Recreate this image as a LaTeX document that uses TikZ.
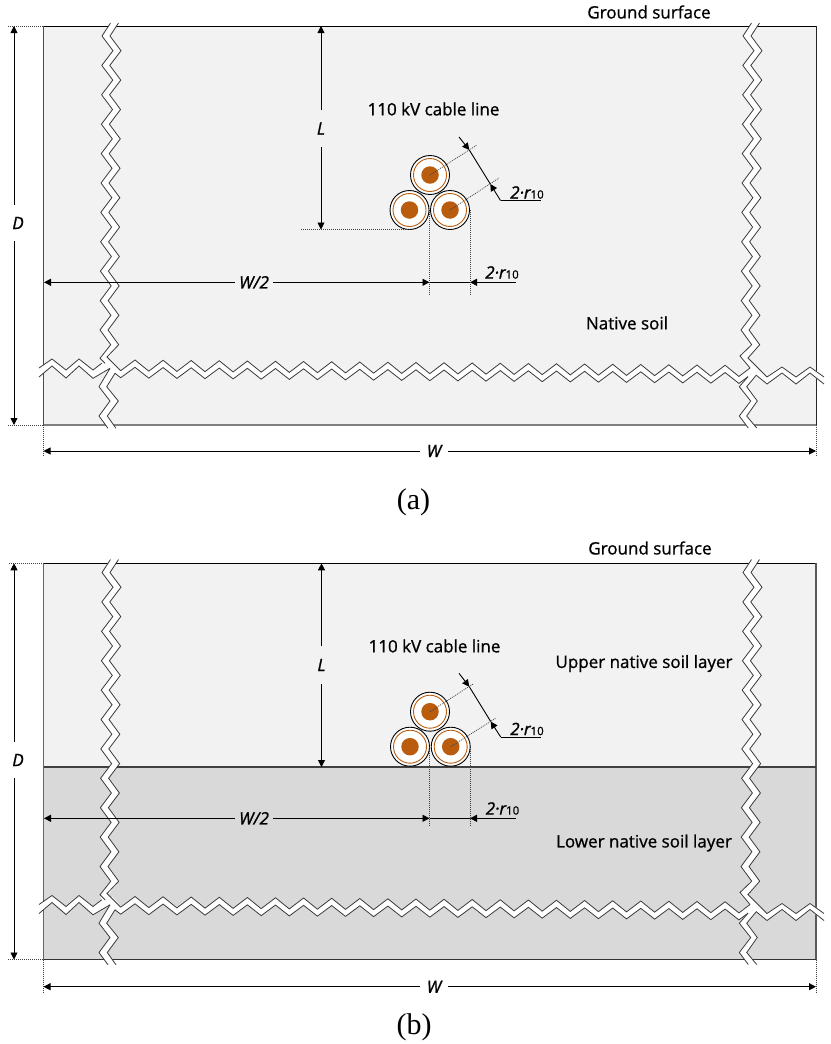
\documentclass[tikz,border=0pt]{standalone}
\usepackage{fontspec}
\setmainfont{Open Sans}
\newfontfamily\capfont{Liberation Serif}
\newfontfamily\medfont{Open Sans}[FakeBold=.9]
\newfontfamily\medital{Open Sans Italic}[FakeBold=1.2]
\usetikzlibrary{arrows.meta}
\definecolor{soilup}{HTML}{F2F2F2}
\definecolor{soillow}{HTML}{D9D9D9}
\definecolor{copper}{HTML}{BA5C0E}
\definecolor{edgegray}{HTML}{3A3A3A}
\newcommand\twor{{\medital\fontsize{17}{17}\selectfont 2·r}{\medfont\fontsize{11.5}{11.5}\selectfont 10}}
\newcommand\vz[1]{\foreach \k in {0,...,10}{ -- ({#1+102-.2*\k},{36+29.4*\k}) -- ({#1+113-.23*\k},{50.7+29.4*\k}) }}
\tikzset{
  edgeline/.style={draw=edgegray,line width=.8pt,line join=miter},
  vband/.style={draw=white,line width=6.4pt,line join=miter},
  hband/.style={draw=white,line width=5.9pt,line join=miter},
  dimline/.style={draw=black,line width=.9pt,-{Triangle[length=7pt,width=7pt]}},
  plainline/.style={draw=black,line width=.9pt},
  dotline/.style={draw=black!75,line width=.7pt,dash pattern=on 1pt off 1pt},
  txt/.style={font=\medfont\fontsize{17}{18}\selectfont,text=black,inner sep=0pt},
  dimtxt/.style={font=\medital\fontsize{17}{18}\selectfont,text=black,inner sep=2pt},
  rtxt/.style={text=black,inner sep=1pt},
  captxt/.style={font=\capfont\fontsize{30}{32}\selectfont,text=black,inner sep=0pt},
  cableouter/.style={circle,draw=black,fill=white,line width=.9pt,minimum size=39pt,inner sep=0pt},
  cablering/.style={circle,draw=copper,line width=.9pt,minimum size=33pt,inner sep=0pt},
  cablecore/.style={circle,fill=copper,minimum size=17.5pt,inner sep=0pt},
}
% breaks of the soil, shared by both panels
\newcommand\breaks{%
  % white bands
  \draw[vband] (114.5,23) \vz{4} -- (104,358.3) -- (106,360);
  \draw[vband] (755.5,23) \vz{645} -- (744,357) -- (752,366);
  \draw[hband] (39,372.5) -- (52,362.5) -- (66,374) -- (79,362.5) -- (93,374.2) -- (106,365.5);
  \draw[hband] (110,362) -- (120.7,374.2) \foreach \k in {0,...,21}{ -- ({135+28.1*\k},{363.8+.25*\k}) -- ({120.7+28.1*(\k+1)},{374.4+.25*(\k+1)}) } -- (745,374);
  \draw[hband] (752,366) -- (767,380.5) -- (782,370) -- (796,380.5) -- (810,370) -- (824,380.5);
  \draw[vband] (112,371) -- (103,386.7) -- (114.2,401) -- (103.2,416) -- (112,428.3);
  \draw[vband] (752,376) -- (743,386.7) -- (754,401) -- (743,416) -- (752.5,428);
  \fill[white] (100,358.3) -- (107,357) -- (120.7,370.7) -- (120.7,377.7) -- (115,373.3) -- (106.7,386.7) -- (99,386.7) -- (110,368.3) -- (93,378.3) -- (93,370) -- (101.7,363.3) -- cycle;
  \fill[white] (740,356) -- (748,358) -- (767,377) -- (767,384) -- (756,375) -- (746.7,386.7) -- (739.3,386.7) -- (748,376.7) -- (740,383) -- (740,376) -- (750,368) -- cycle;
  % left vertical break
  \draw[edgeline] (110.5,23) \vz{0} -- (100,358.3) -- (105,363.3);
  \draw[edgeline] (118.5,23) \vz{8} -- (107,357) -- (120.7,370.7);
  \draw[edgeline] (110,368.3) -- (99,386.7) -- (110,401) -- (99,416) -- (108,428.3);
  \draw[edgeline] (115,373.3) -- (106.7,386.7) -- (118.3,401) -- (107.3,416) -- (116,428.3);
  % right vertical break
  \draw[edgeline] (751.5,23) \vz{641} -- (740,356) -- (750,368);
  \draw[edgeline] (759.5,23) \vz{649} -- (748,358) -- (767,377);
  \draw[edgeline] (748,376.7) -- (739.3,386.7) -- (750.7,401) -- (739.3,416) -- (748.3,428);
  \draw[edgeline] (756,375.5) -- (746.7,386.7) -- (757.3,401) -- (746.7,416) -- (756.7,428);
  % horizontal break
  \draw[edgeline] (39,368) -- (52,359) -- (66,370) -- (79,359) -- (93,370) -- (101.7,363.3);
  \draw[edgeline] (39,377) -- (52,366) -- (66,378) -- (79,366) -- (93,378.3) -- (110,368.3);
  \draw[edgeline] (120.7,370.7) \foreach \k in {0,...,21}{ -- ({135+28.1*\k},{360+.25*\k}) -- ({120.7+28.1*(\k+1)},{370.9+.25*(\k+1)}) } -- (750,368);
  \draw[edgeline] (115,373.3) -- (120.7,377.7) \foreach \k in {0,...,21}{ -- ({135+28.1*\k},{367.3+.25*\k}) -- ({120.7+28.1*(\k+1)},{377.9+.25*(\k+1)}) } -- (748,376.7);
  \draw[edgeline] (767,377) -- (782,367) -- (796,377) -- (810,367) -- (824,377);
  \draw[edgeline] (756,375) -- (767,384) -- (782,373) -- (796,384) -- (810,373) -- (824,384);
}
\begin{document}
\begin{tikzpicture}[x=1pt,y=-1pt]
\useasboundingbox (0,0) rectangle (830,1044);
% ---------- panel (a) ----------
\fill[soilup] (43.5,26) rectangle (816,425);
\draw[black,line width=1pt] (43.5,26) -- (816,26);
\draw[black!70,line width=1.1pt] (43.5,26) -- (43.5,425);
\draw[black!85,line width=1pt] (816,26) -- (816,425);
\draw[black!50,line width=1.8pt] (43.5,425) -- (816,425);
\breaks
\node[txt] (ag) at (649,12) {Ground surface};
\node[txt] (acl) at (433.5,109) {110 kV cable line};
\node[txt] (ans) at (627,323) {Native soil};
\node[captxt] (acap) at (413.5,502) {(a)};
% dimension guides
\coordinate (aDt) at (14,26); \coordinate (aDb) at (14,425);
\coordinate (aTl) at (8,26); \coordinate (aTr) at (43.5,26);
\coordinate (aBl) at (8,425); \coordinate (aBr) at (43.5,425);
\draw[dotline] (aTl) -- (aTr);
\draw[dotline] (aBl) -- (aBr);
\coordinate (aWl) at (43.5,451); \coordinate (aWr) at (816,451);
\draw[dotline] (43.5,425) -- (43.5,456);
\draw[dotline] (816,425) -- (816,456);
\node[dimtxt,minimum height=36pt] (aD) at (14,223) {};
\node[dimtxt] at (18,223) {D};
\draw[dimline] (aD) -- (aDt);
\draw[dimline] (aD) -- (aDb);
\node[dimtxt,inner sep=7pt] (aW) at (434,451) {W};
\draw[dimline] (aW) -- (aWl);
\draw[dimline] (aW) -- (aWr);
% cables
\foreach \n/\x/\y in {at/430/175,al/409.5/210,ar/450/210}{
  \node[cableouter] (\n o) at (\x,\y) {};
  \node[cablering] (\n r) at (\x,\y) {};
  \node[cablecore] (\n c) at (\x,\y) {};
}
% L
\coordinate (aLt) at (321,26); \coordinate (aLb) at (321,229.5);
\node[dimtxt,minimum height=37pt] (aL) at (321,128.5) {L};
\draw[dimline] (aL) -- (aLt);
\draw[dimline] (aL) -- (aLb);
\coordinate (aLd) at (301,229.5);
\draw[dotline] (aLd) -- (aLb -| alo.south);
% W/2 and 2r
\coordinate (aHl) at (44,282.3); \coordinate (aHm) at (429.5,282.3); \coordinate (aHr) at (470,282.3); \coordinate (aHe) at (516,282.3);
\node[dimtxt,inner sep=4pt] (aW2) at (254,282.3) {W/2};
\draw[dimline] (aW2) -- (aHl);
\draw[dimline] (aW2) -- (aHm);
\draw[plainline] (aHm) -- (aHr);
\draw[dimline] (aHe) -- (aHr);
\draw[dotline] (429.5,210) -- (429.5,296);
\draw[dotline] (470,210) -- (470,296);
\node[rtxt] (ar1) at (502,272.5) {\twor};
% diagonal dimension
\coordinate (adS) at (459,137); \coordinate (adT1) at (469.3,150);
\coordinate (adK) at (500.5,200.5); \coordinate (adT2) at (490.3,184); \coordinate (adE) at (541,200.5);
\coordinate (ad1) at (477,145); \coordinate (ad2) at (499,178);
\draw[dotline] (atc.center) -- (ad1);
\draw[dotline] (arc.center) -- (ad2);
\draw[dimline] (adS) -- (adT1);
\draw[plainline] (adT1) -- (adT2);
\draw[dimline] (adK) -- (adT2);
\draw[plainline] (adK) -- (adE);
\node[rtxt] (ar2) at (527,192.5) {\twor};
% ---------- panel (b) ----------
\fill[soilup] (43.5,563.3) rectangle (816,767);
\fill[soillow] (43.5,767) rectangle (816,959.5);
\draw[black,line width=1pt] (43.5,563.3) -- (816,563.3);
\draw[black!60,line width=1.3pt] (43.5,563.3) -- (43.5,959.5);
\draw[black!65,line width=1.2pt] (816,563.3) -- (816,959.5);
\draw[black!80,line width=1pt] (43.5,959.5) -- (816,959.5);
\draw[black!75,line width=1.2pt] (43.5,767) -- (816,767);
\begin{scope}[shift={(0,536.5)}]
\breaks
\end{scope}
\node[txt] (bg) at (650,548) {Ground surface};
\node[txt] (bcl) at (434.5,646) {110 kV cable line};
\node[txt] (bup) at (644,663.5) {Upper native soil layer};
\node[txt] (blo) at (644,843) {Lower native soil layer};
\node[captxt] (bcap) at (414,1027) {(b)};
\coordinate (bDt) at (14,563.3); \coordinate (bDb) at (14,959.5);
\coordinate (bTl) at (9,563.3); \coordinate (bTr) at (43.5,563.3);
\coordinate (bBl) at (8,959.5); \coordinate (bBr) at (43.5,959.5);
\draw[dotline] (bTl) -- (bTr);
\draw[dotline] (bBl) -- (bBr);
\coordinate (bWl) at (43.5,986.7); \coordinate (bWr) at (816,986.7);
\draw[dotline] (43.5,959.5) -- (43.5,992);
\draw[dotline] (816,959.5) -- (816,992);
\node[dimtxt,minimum height=36pt] (bD) at (14,760) {};
\node[dimtxt] at (18,760) {D};
\draw[dimline] (bD) -- (bDt);
\draw[dimline] (bD) -- (bDb);
\node[dimtxt,inner sep=7pt] (bW) at (434,986.7) {W};
\draw[dimline] (bW) -- (bWl);
\draw[dimline] (bW) -- (bWr);
\foreach \n/\x/\y in {bt/430/711.7,bl/410/746.7,br/450.7/746.7}{
  \node[cableouter] (\n o) at (\x,\y) {};
  \node[cablering] (\n r) at (\x,\y) {};
  \node[cablecore] (\n c) at (\x,\y) {};
}
\coordinate (bLt) at (321.5,563.3); \coordinate (bLb) at (321.5,767);
\node[dimtxt,minimum height=37pt] (bL) at (321.5,665) {L};
\draw[dimline] (bL) -- (bLt);
\draw[dimline] (bL) -- (bLb);
\coordinate (bHl) at (44,818.3); \coordinate (bHm) at (429.5,818.3); \coordinate (bHr) at (470,818.3); \coordinate (bHe) at (516,818.3);
\node[dimtxt,inner sep=4pt] (bW2) at (254,818.3) {W/2};
\draw[dimline] (bW2) -- (bHl);
\draw[dimline] (bW2) -- (bHm);
\draw[plainline] (bHm) -- (bHr);
\draw[dimline] (bHe) -- (bHr);
\draw[dotline] (429.5,746.7) -- (429.5,825);
\draw[dotline] (470,746.7) -- (470,825);
\node[rtxt] (br1) at (502.5,808.5) {\twor};
\coordinate (bdS) at (459,673.3); \coordinate (bdT1) at (469.3,686.7);
\coordinate (bdK) at (500.7,737); \coordinate (bdT2) at (490.7,721.5); \coordinate (bdE) at (541,737);
\coordinate (bd1) at (473,684); \coordinate (bd2) at (496,718);
\draw[dotline] (btc.center) -- (bd1);
\draw[dotline] (brc.center) -- (bd2);
\draw[dimline] (bdS) -- (bdT1);
\draw[plainline] (bdT1) -- (bdT2);
\draw[dimline] (bdK) -- (bdT2);
\draw[plainline] (bdK) -- (bdE);
\node[rtxt] (br2) at (527,729) {\twor};
\end{tikzpicture}
\end{document}
